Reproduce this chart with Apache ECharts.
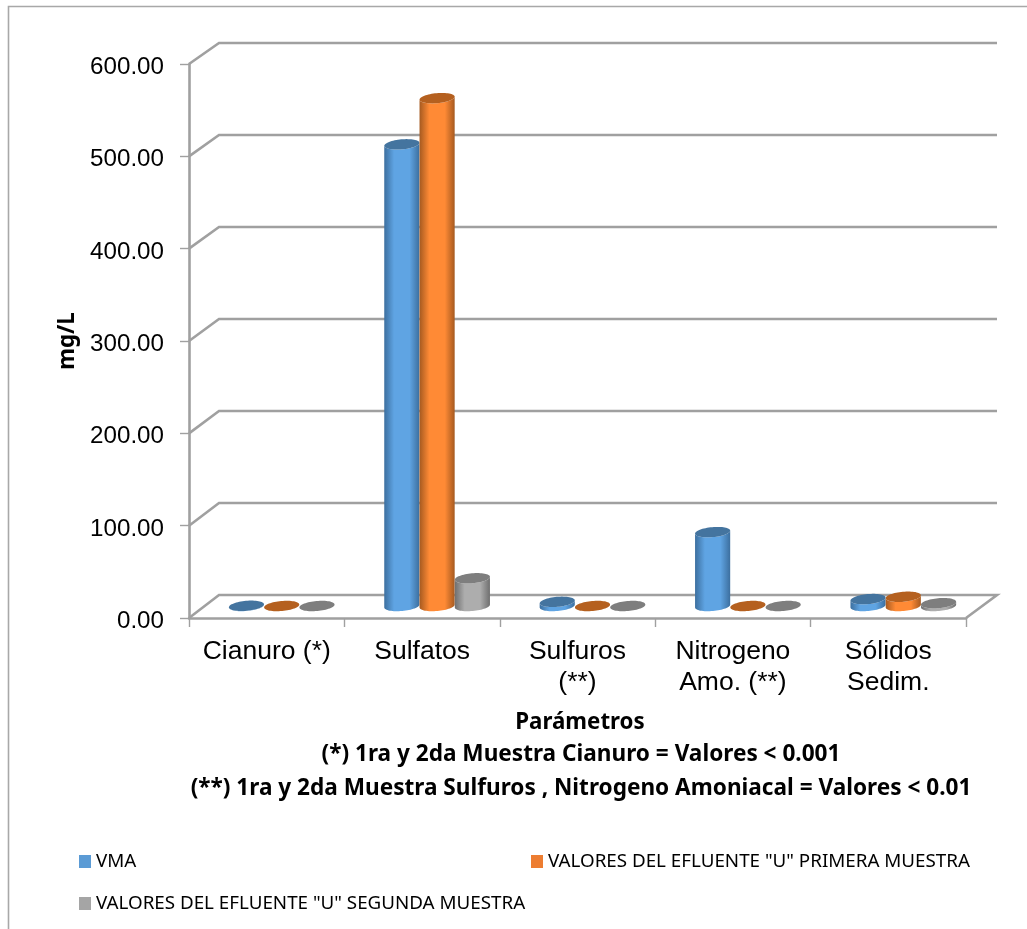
<!DOCTYPE html>
<html>
<head>
<meta charset="utf-8">
<style>html,body{margin:0;padding:0;background:#fff}#c{width:1027px;height:929px}</style>
<script src="https://cdn.jsdelivr.net/npm/echarts@6/dist/echarts.min.js"></script>
</head>
<body>
<div id="c"></div>
<script>
// Concentrations in mg/L for each parameter
const categories = ['Cianuro (*)', 'Sulfatos', 'Sulfuros\n(**)', 'Nitrogeno\nAmo. (**)', 'Sólidos\nSedim.'];
const vma = [0.2, 500, 4.5, 80, 7.5];
const primeraMuestra = [0.001, 550, 0.01, 0.01, 10];
const segundaMuestra = [0.001, 30, 0.01, 0.01, 3];
const yTicks = [0, 100, 200, 300, 400, 500, 600];
const seriesNames = ['VMA', 'VALORES DEL EFLUENTE "U" PRIMERA MUESTRA', 'VALORES DEL EFLUENTE "U" SEGUNDA MUESTRA'];

// Oblique projection of the depth axis
const DEPTH_X = 30;
const depthY = v => 23 - (v / 600) * 2;
const BAND_RATIO = 0.227;
const AXIS_FONT = '"Liberation Sans", Arial, sans-serif';
const TEXT_FONT = '"Noto Sans", sans-serif';
const LINE = '#a0a0a0';

const palettes = [
  { legend: '#5b9bd5', edge: '#3c6f9f', mid: '#5fa4e3', top: '#44749f' },
  { legend: '#ed7d31', edge: '#a65a20', mid: '#ff8a35', top: '#b5601f' },
  { legend: '#a5a5a5', edge: '#6f6f6f', mid: '#adadad', top: '#7e7e7e' }
];

function ellipsePoints(cx, cy, rx, ry, from, to, steps) {
  const t = 0.09, pts = [];
  for (let i = 0; i <= steps; i++) {
    const a = from + (to - from) * i / steps;
    pts.push([
      cx + rx * Math.cos(a) * Math.cos(t) + ry * Math.sin(a) * Math.sin(t),
      cy - rx * Math.cos(a) * Math.sin(t) + ry * Math.sin(a) * Math.cos(t)
    ]);
  }
  return pts;
}

function cylinder(seriesIdx) {
  const p = palettes[seriesIdx];
  return function (params, api) {
    const cat = api.value(0), v = api.value(1);
    const band = api.size([1, 0])[0];
    const w = band * BAND_RATIO;
    const base = api.coord([cat, 0]);
    const top = api.coord([cat, v]);
    const cx = base[0] + DEPTH_X / 2 + (seriesIdx - 1) * w;
    const by = base[1] - 12, ty = top[1] - 12;
    const rx = w / 2, ry = 5;
    const lower = ellipsePoints(cx, by, rx, ry, 0, Math.PI, 32);
    const upper = ellipsePoints(cx, ty, rx, ry, Math.PI, 0, 32);
    const whole = ellipsePoints(cx, ty, rx, ry, 0, Math.PI * 2, 64);
    return {
      type: 'group',
      children: [
        {
          type: 'polygon',
          shape: { points: lower.concat(upper) },
          style: {
            fill: {
              type: 'linear', x: 0, y: 0, x2: 1, y2: 0,
              colorStops: [
                { offset: 0, color: p.edge },
                { offset: 0.28, color: p.mid },
                { offset: 0.72, color: p.mid },
                { offset: 1, color: p.edge }
              ]
            }
          }
        },
        { type: 'polygon', shape: { points: whole }, style: { fill: p.top } }
      ]
    };
  };
}

// Side and back walls: each gridline runs from the front axis into the depth, then across
function renderWalls(params, api) {
  const v = api.value(0);
  const start = api.coord([0, v]);
  const band = api.size([1, 0])[0];
  const x0 = start[0] - band / 2;
  const x1 = x0 + band * categories.length;
  const y = start[1], dy = depthY(v);
  const pts = [[x0, y], [x0 + DEPTH_X, y - dy], [x1 + DEPTH_X + 1, y - dy]];
  if (v === 0) pts.push([x1, y]);
  return {
    type: 'polyline',
    shape: { points: pts },
    style: { fill: 'none', stroke: LINE, lineWidth: 2.6 }
  };
}

const seriesValues = [vma, primeraMuestra, segundaMuestra];
const chart = echarts.init(document.getElementById('c'), null, { renderer: 'canvas' });
chart.setOption({
  animation: false,
  backgroundColor: '#ffffff',
  grid: { left: 189, right: 61, top: 64, bottom: 311 },
  graphic: [{
    type: 'polyline',
    silent: true,
    shape: { points: [[8.5, 940], [8.5, 6.5], [1040, 6.5]] },
    style: { fill: 'none', stroke: '#a8a8a8', lineWidth: 1.6 }
  }],
  title: [
    { text: '(*) 1ra y 2da Muestra Cianuro = Valores < 0.001', left: 581, top: 743, textAlign: 'center',
      textStyle: { fontFamily: TEXT_FONT, fontSize: 22.6, fontWeight: 'bold', color: '#000' }, padding: 0 },
    { text: '(**) 1ra y 2da Muestra Sulfuros , Nitrogeno Amoniacal = Valores < 0.01', left: 581, top: 777, textAlign: 'center',
      textStyle: { fontFamily: TEXT_FONT, fontSize: 22.6, fontWeight: 'bold', color: '#000' }, padding: 0 }
  ],
  legend: [
    { data: [seriesNames[0]], left: 79, top: 852 },
    { data: [seriesNames[1]], left: 531, top: 852 },
    { data: [seriesNames[2]], left: 79, top: 894 }
  ].map(l => Object.assign(l, {
    icon: 'rect', itemWidth: 12, itemHeight: 13, itemGap: 0, padding: 0, selectedMode: false,
    textStyle: { fontFamily: TEXT_FONT, fontSize: 18.8, color: '#000', padding: [0, 0, 0, 0] }
  })),
  xAxis: {
    type: 'category',
    data: categories,
    name: 'Parámetros',
    nameLocation: 'middle',
    nameGap: 94,
    nameTextStyle: { fontFamily: TEXT_FONT, fontSize: 22.3, fontWeight: 'bold', color: '#000', padding: [0, 0, 0, 5] },
    axisLine: { lineStyle: { color: LINE, width: 2.6 } },
    axisTick: { show: true, alignWithLabel: false, length: 9, lineStyle: { color: LINE, width: 1.4 } },
    axisLabel: { fontFamily: AXIS_FONT, fontSize: 26.5, color: '#000', margin: 18, lineHeight: 31, interval: 0 },
    splitLine: { show: false }
  },
  yAxis: {
    type: 'value',
    min: 0,
    max: 600,
    interval: 100,
    name: 'mg/L',
    nameLocation: 'middle',
    nameGap: 109,
    nameTextStyle: { fontFamily: TEXT_FONT, fontSize: 22.3, fontWeight: 'bold', color: '#000' },
    axisLine: { show: true, lineStyle: { color: LINE, width: 2.6 } },
    axisTick: { show: true, length: 9, lineStyle: { color: LINE, width: 1.4 } },
    axisLabel: {
      margin: 25,
      formatter: v => '{tick|' + v.toFixed(2) + '}',
      rich: { tick: { fontFamily: AXIS_FONT, fontSize: 24.2, color: '#000', padding: [7, 0, 0, 0] } }
    },
    splitLine: { show: false }
  },
  series: [{
    type: 'custom',
    silent: true,
    renderItem: renderWalls,
    encode: { y: 0 },
    data: yTicks.map(v => [v]),
    z: 1
  }].concat(seriesNames.map((name, s) => ({
    type: 'custom',
    name,
    renderItem: cylinder(s),
    itemStyle: { color: palettes[s].legend },
    encode: { x: 0, y: 1 },
    data: seriesValues[s].map((v, i) => [i, v]),
    z: 2 + s
  })))
});
</script>
</body>
</html>
